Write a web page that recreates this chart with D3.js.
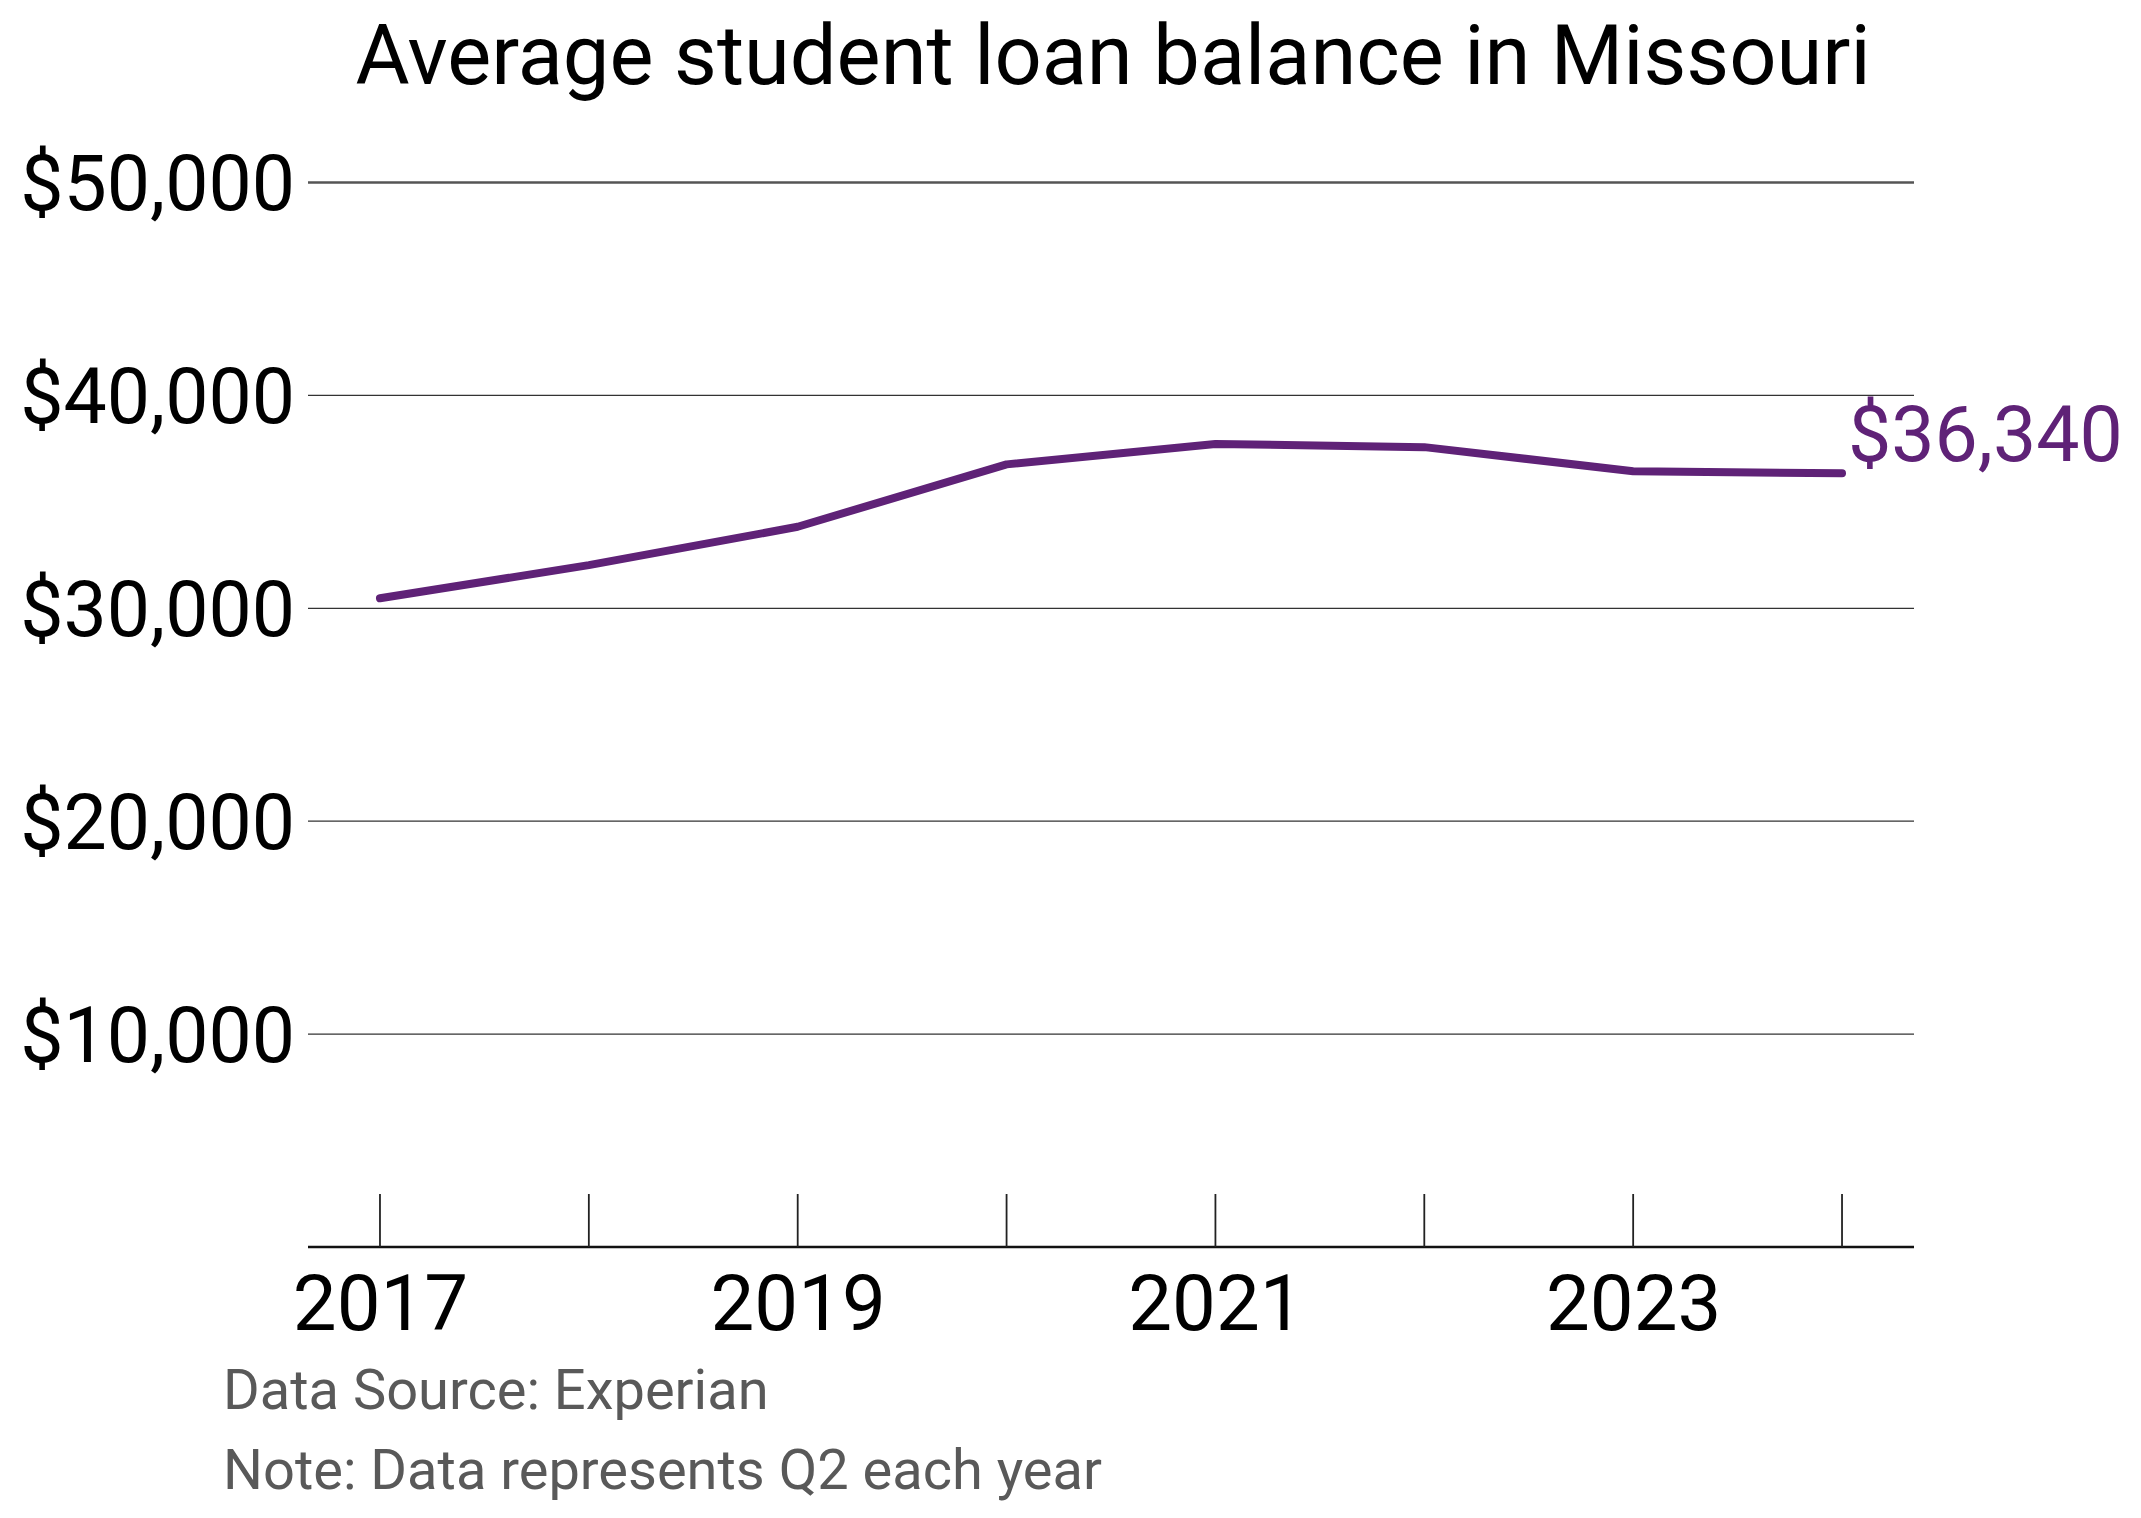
<!DOCTYPE html>
<html>
<head>
<meta charset="utf-8">
<script src="https://cdn.jsdelivr.net/npm/d3@7/dist/d3.min.js"></script>
<style>
  html, body { margin: 0; padding: 0; background: #fff; }
  svg { display: block; font-family: Roboto, "Noto Sans", sans-serif; }
</style>
</head>
<body>
<svg id="chart" width="2141" height="1518"></svg>
<script>
const years = [2017, 2018, 2019, 2020, 2021, 2022, 2023, 2024];
const balances = [30470, 32030, 33830, 36760, 37720, 37570, 36440, 36340];
const yTicks = [10000, 20000, 30000, 40000, 50000];
const xTickLabels = [2017, 2019, 2021, 2023];
const titleText = "Average student loan balance in Missouri";
const footerLines = ["Data Source: Experian", "Note: Data represents Q2 each year"];
const endLabel = "$36,340";

const svg = d3.select("#chart");
const plotLeft = 308, plotRight = 1914, plotTop = 182.5, plotBottom = 1247;
const purple = "#5f2277";

const x = d3.scalePoint().domain(years).range([plotLeft, plotRight]).padding(0.3446);
const y = d3.scaleLinear().domain([0, 50000]).range([plotBottom, plotTop]);

// title
svg.append("text")
  .attr("x", (plotLeft + plotRight) / 2 + 2).attr("y", 84)
  .attr("text-anchor", "middle")
  .attr("font-size", 83).attr("fill", "#000")
  .text(titleText);

// gridlines
svg.append("g").selectAll("line").data(yTicks).join("line")
  .attr("x1", plotLeft).attr("x2", plotRight)
  .attr("y1", d => y(d)).attr("y2", d => y(d))
  .attr("stroke", d => d === 50000 ? "#555" : "#333")
  .attr("stroke-width", d => d === 50000 ? 2.5 : 1.2);

// y labels
const fmt = d3.format("$,");
svg.append("g").selectAll("text").data(yTicks).join("text")
  .attr("x", 295).attr("y", d => y(d))
  .attr("dy", "0.36em")
  .attr("text-anchor", "end")
  .attr("font-size", 77).attr("fill", "#000")
  .text(d => fmt(d));

// x axis labels
const xAxis = d3.axisBottom(x)
  .tickSize(0)
  .tickFormat(d => xTickLabels.includes(d) ? String(d) : "");
const gx = svg.append("g").attr("transform", `translate(0,${plotBottom})`).call(xAxis);
gx.select(".domain").remove();
gx.selectAll("text").attr("font-size", 78).attr("fill", "#000")
  .attr("font-family", "Roboto, sans-serif").attr("dy", null).attr("y", 83);

svg.append("line")
  .attr("x1", plotLeft).attr("x2", plotRight)
  .attr("y1", plotBottom).attr("y2", plotBottom)
  .attr("stroke", "#111").attr("stroke-width", 2.7);

svg.append("g").selectAll("line").data(years).join("line")
  .attr("x1", d => x(d)).attr("x2", d => x(d))
  .attr("y1", plotBottom - 53).attr("y2", plotBottom)
  .attr("stroke", "#222").attr("stroke-width", 1.8);

// line
const line = d3.line().x((d, i) => x(years[i])).y(d => y(d));
svg.append("path")
  .datum(balances)
  .attr("d", line)
  .attr("fill", "none")
  .attr("stroke", purple)
  .attr("stroke-width", 8)
  .attr("stroke-linejoin", "round")
  .attr("stroke-linecap", "round");

// end label
svg.append("text")
  .attr("x", x(years[years.length - 1]) + 6)
  .attr("y", y(balances[balances.length - 1]) - 12)
  .attr("font-size", 77).attr("fill", purple)
  .text(endLabel);

// footer
svg.append("g").selectAll("text").data(footerLines).join("text")
  .attr("x", 223).attr("y", (d, i) => 1409 + i * 80)
  .attr("font-size", 56).attr("fill", "#595959")
  .text(d => d);
</script>
</body>
</html>
